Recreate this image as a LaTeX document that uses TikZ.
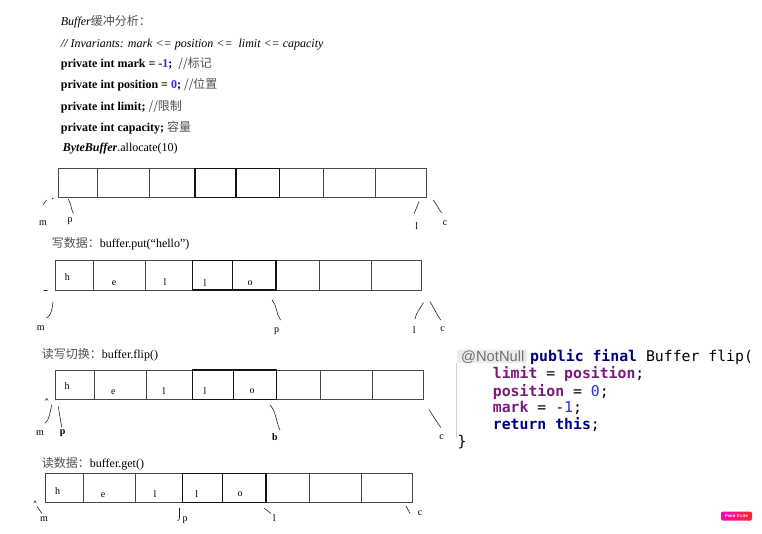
\documentclass[tikz,border=0pt]{standalone}
\usepackage{fontspec}
\setmainfont{Liberation Serif}
\newfontfamily\cjk{Noto Sans CJK SC}
\newfontfamily\monof{DejaVu Sans Mono}
\newfontfamily\sansf{Liberation Sans}
\definecolor{kw}{HTML}{000080}
\definecolor{fld}{HTML}{7A1A80}
\definecolor{num}{HTML}{2A2AF0}
\definecolor{cjkgray}{HTML}{505050}
\definecolor{ann}{HTML}{707070}
\begin{document}
\begin{tikzpicture}[x=1pt,y=-1pt,
  txt/.style={anchor=base west,inner sep=0,font=\fontsize{12}{14}\selectfont},
  ttl/.style={anchor=base west,inner sep=0,font=\fontsize{12}{14}\selectfont},
  codeln/.style={anchor=base west,inner sep=0,font=\monof\fontsize{14.8}{17}\selectfont},
  cellt/.style={inner sep=0,font=\fontsize{10}{12}\selectfont},
  lbl/.style={inner sep=0,font=\fontsize{10}{12}\selectfont},
  boxln/.style={draw=black!72,line width=0.8pt},
  thickln/.style={draw=black!92,line width=1.3pt},
  tick/.style={draw=black!85,line width=0.6pt,line cap=round}]
\useasboundingbox[fill=white] (0,0) rectangle (762,534);

% ---------- header text ----------
\node[txt] (h1) at (60.7,25.5) {\itshape Buffer{\cjk\color{cjkgray}\upshape 缓冲分析：}};
\node[txt] (h2) at (60.7,48) {\itshape // Invariants: mark <= position <= \ limit <= capacity};
\node[txt] (h3) at (60.7,68) {\bfseries private int mark = -{\color{num}1}; \ {\cjk\mdseries\color{cjkgray}//标记}};
\node[txt] (h4) at (60.7,89) {\bfseries private int position = {\color{num}0}; {\cjk\mdseries\color{cjkgray}//位置}};
\node[txt] (h5) at (60.7,110.5) {\bfseries private int limit; {\cjk\mdseries\color{cjkgray}//限制}};
\node[txt] (h6) at (60.7,131.5) {\bfseries private int capacity; {\cjk\mdseries\color{cjkgray}容量}};
\node[txt] (h7) at (62.7,152) {{\bfseries\itshape ByteBuffer}.allocate(10)};

% ---------- row 1 ----------
\draw[boxln] (58.3,168.3) rectangle (426,197.3);
\foreach \x in {97.3,149,195,236,279.3,323.3,375.3} \draw[boxln] (\x,168.3) -- (\x,197.3);
\draw[thickln] (195,168.3) rectangle (279.3,197.3) (236,168.3) -- (236,197.3);
\draw[tick] (43,205) -- (46.5,200);
\fill (52.7,198.5) circle (0.6);
\draw[tick] (68.3,199.3) .. controls (71,203) and (71,209) .. (73.3,213.3);
\draw[tick] (414.3,213.3) -- (419,201.7);
\draw[tick] (433.3,200) .. controls (437,205) and (439,210) .. (441.7,212.7);
\node[lbl] (m1) at (43,223.3) {m};
\node[lbl] (p1) at (70,221.7) {p};
\node[lbl] (l1) at (416.7,226.5) {l};
\node[lbl] (c1) at (445,223.3) {c};

% ---------- row 2 ----------
\node[ttl] (t2) at (51.7,247.3) {{\cjk\color{cjkgray}写数据：}buffer.put(“hello”)};
\draw[boxln] (55,260.7) rectangle (421.7,290);
\foreach \x in {93.3,145,192.3,232.7,276,319.3,371.7} \draw[boxln] (\x,260.7) -- (\x,290);
\draw[thickln] (192.3,260.7) rectangle (276,290) (232.7,260.7) -- (232.7,290);
\node[cellt] (r2a) at (67.3,276.7) {h};
\node[cellt] (r2b) at (114,282.7) {e};
\node[cellt] (r2c) at (165,281.7) {l};
\node[cellt] (r2d) at (205,282.7) {l};
\node[cellt] (r2e) at (250,282.7) {o};
\draw[tick] (44,290) -- (47.3,290);
\draw[tick] (53,302) .. controls (52,311) and (50.5,316) .. (46.5,318);
\draw[tick] (272,300) .. controls (277,305) and (276,314) .. (280.5,320);
\draw[tick] (423.3,302.7) .. controls (420,309) and (416,313) .. (415,319);
\draw[tick] (430,301.7) .. controls (434,308) and (437,315) .. (440.7,320);
\node[lbl] (m2) at (40.7,328.3) {m};
\node[lbl] (p2) at (276.7,331) {p};
\node[lbl] (l2) at (414.3,330) {l};
\node[lbl] (c2) at (442.7,329.3) {c};

% ---------- row 3 ----------
\node[ttl] (t3) at (41.7,358) {{\cjk\color{cjkgray}读写切换：}buffer.flip()};
\draw[boxln] (55.7,370) rectangle (423.3,399.3);
\foreach \x in {94,146,192.7,233.3,276.7,320.7,372.7} \draw[boxln] (\x,370) -- (\x,399.3);
\draw[thickln] (192.7,370) rectangle (276.7,399.3) (233.3,370) -- (233.3,399.3);
\node[cellt] (r3a) at (67,386) {h};
\node[cellt] (r3b) at (113.3,392) {e};
\node[cellt] (r3c) at (164,391) {l};
\node[cellt] (r3d) at (205,391) {l};
\node[cellt] (r3e) at (252,391) {o};
\draw[tick] (45.3,400.3) -- (46.7,398.5) -- (48.1,400.3);
\draw[tick] (51.7,405) .. controls (50,412) and (49.5,420) .. (45,423.3);
\draw[tick] (58.3,406.7) -- (61.7,427.3);
\draw[tick] (270,405) .. controls (276,411) and (276,422) .. (280,430);
\draw[tick] (429.3,410) .. controls (433,416) and (437,422) .. (440.7,427.3);
\node[lbl] (m3) at (40,433.3) {m};
\node[lbl] (p3) at (62.7,433.3) {\bfseries p};
\node[lbl] (l3) at (275,437.3) {\bfseries b};
\node[lbl] (c3) at (441.7,437.3) {c};

% ---------- row 4 ----------
\node[ttl] (t4) at (41.7,467.3) {{\cjk\color{cjkgray}读数据：}buffer.get()};
\draw[boxln] (45,473.3) rectangle (412.3,502.7);
\foreach \x in {83.3,135,182.3,222.7,266,309.3,361.7} \draw[boxln] (\x,473.3) -- (\x,502.7);
\draw[thickln] (182.3,473.3) rectangle (266,502.7) (222.7,473.3) -- (222.7,502.7);
\node[cellt] (r4a) at (57.7,491) {h};
\node[cellt] (r4b) at (103,495) {e};
\node[cellt] (r4c) at (155,494) {l};
\node[cellt] (r4d) at (196.7,494) {l};
\node[cellt] (r4e) at (240,494) {o};
\draw[tick] (33.8,502.8) -- (35,501) -- (36.2,502.8);
\draw[tick] (37.3,506.7) -- (41.7,513.3);
\draw[tick] (179.5,508) -- (179.5,518) .. controls (179.5,520) and (178.5,520.5) .. (177.5,520.5);
\draw[tick] (264.3,508.3) -- (270.7,513.3);
\draw[tick] (406,506) -- (410,513.3);
\node[lbl] (m4) at (44,519.3) {m};
\node[lbl] (p4) at (185,520) {p};
\node[lbl] (l4) at (274.3,518.5) {l};
\node[lbl] (c4) at (420,513.3) {c};

% ---------- code block ----------
\fill[black!8,rounded corners=1.5pt] (457,349.5) rectangle (527,363);
\draw[black!18,line width=0.8pt] (456.8,363) -- (456.8,438);
\node[codeln,font=\sansf\fontsize{14.7}{17}\selectfont,text=ann] (ann) at (461,361.5) {@NotNull};
\node[codeln] (c1l) at (530,361.5) {{\color{kw}\bfseries public final} Buffer flip(};
\node[codeln] (c2l) at (492.7,378.5) {{\color{fld}\bfseries limit} = {\color{fld}\bfseries position};};
\node[codeln] (c3l) at (492.7,396) {{\color{fld}\bfseries position} = {\color{num}0};};
\node[codeln] (c4l) at (492.7,412.7) {{\color{fld}\bfseries mark} = -{\color{num}1};};
\node[codeln] (c5l) at (492.7,429.3) {{\color{kw}\bfseries return this};};
\node[codeln] (c6l) at (457.5,446.5) {\}};

% ---------- badge ----------
\shade[left color=magenta!75!red,right color=red!80!pink,rounded corners=2pt] (721,511.5) rectangle (752,520.5);
\node[inner sep=0,text=white,font=\sansf\bfseries\fontsize{4.2}{5}\selectfont] (badge) at (736.5,516) {Paint X Lite};
\end{tikzpicture}
\end{document}
